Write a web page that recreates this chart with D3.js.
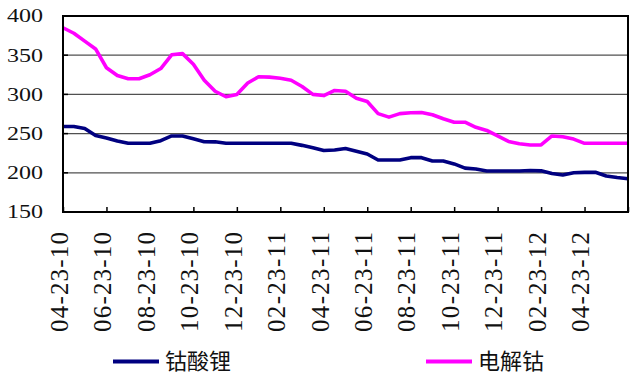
<!DOCTYPE html>
<html>
<head>
<meta charset="utf-8">
<script src="https://cdn.jsdelivr.net/npm/d3@7"></script>
<style>
  body { margin: 0; background: #fff; }
  svg { display: block; }
</style>
</head>
<body>
<svg id="chart" width="635" height="384"></svg>
<script>
// half-monthly price readings, categories as on the sheet
const categories = [
  "04-23-10","05-08-10","05-23-10","06-08-10","06-23-10","07-08-10","07-23-10","08-08-10",
  "08-23-10","09-08-10","09-23-10","10-08-10","10-23-10","11-08-10","11-23-10","12-08-10",
  "12-23-10","01-08-11","01-23-11","02-08-11","02-23-11","03-08-11","03-23-11","04-08-11",
  "04-23-11","05-08-11","05-23-11","06-08-11","06-23-11","07-08-11","07-23-11","08-08-11",
  "08-23-11","09-08-11","09-23-11","10-08-11","10-23-11","11-08-11","11-23-11","12-08-11",
  "12-23-11","01-08-12","01-23-12","02-08-12","02-23-12","03-08-12","03-23-12","04-08-12",
  "04-23-12","05-08-12","05-23-12","06-08-12","06-23-12"
];

// 钴酸锂
const licoo2 = [
  259, 259, 256.5, 247.5, 244.5, 240.5, 237.6, 237.6,
  237.6, 241, 247, 247, 243.5, 239.7, 239.5, 237.6,
  237.6, 237.6, 237.6, 237.6, 237.6, 237.6, 235, 232,
  228.5, 229, 231, 227.5, 224, 216.3, 216.3, 216.3,
  219.3, 219.3, 215, 215, 211.3, 206, 204.8, 202.3,
  202.3, 202.3, 202.3, 203, 202.5, 199, 197.2, 200,
  200.6, 200.6, 196, 194, 192.5
];

// 电解钴
const cobalt = [
  385, 378, 368, 358, 334, 324, 320, 320,
  325, 333, 350.5, 352, 338.5, 318, 304, 297,
  300, 314.5, 322.5, 322, 320.5, 318, 310, 300,
  298.5, 305, 304, 295, 291, 275.5, 271, 275.5,
  276.5, 277, 274, 269, 264.5, 264.5, 258, 254,
  247, 240, 237, 235.5, 235.5, 247, 246, 243,
  237.6, 237.6, 237.6, 237.6, 237.6
];

const tickLabels = ["04-23-10","06-23-10","08-23-10","10-23-10","12-23-10","02-23-11",
  "04-23-11","06-23-11","08-23-11","10-23-11","12-23-11","02-23-12","04-23-12"];
const yTicks = [150, 200, 250, 300, 350, 400];

const seriesNames = ["钴酸锂", "电解钴"];
const seriesColors = ["#000080", "#ff00ff"];

const plotL = 63, plotR = 628, plotT = 16, plotB = 212;

const svg = d3.select("#chart");
svg.append("rect").attr("width", 635).attr("height", 384).attr("fill", "#fff");

const x = d3.scalePoint().domain(categories).range([plotL, plotR]);
const y = d3.scaleLinear().domain([150, 400]).range([plotB, plotT]);

// gridlines
svg.append("g")
  .selectAll("line")
  .data(yTicks.filter(d => d > 150 && d < 400))
  .join("line")
    .attr("x1", plotL).attr("x2", plotR)
    .attr("y1", d => y(d)).attr("y2", d => y(d))
    .attr("stroke", "#505050")
    .attr("stroke-width", 1.2);

// y labels (stretched serif like the original)
svg.append("g")
  .selectAll("text")
  .data(yTicks)
  .join("text")
    .attr("transform", d => `translate(43,${y(d)}) scale(1.3,1)`)
    .attr("dy", "0.35em")
    .attr("text-anchor", "end")
    .attr("font-family", "'Liberation Serif', 'DejaVu Serif', serif")
    .attr("font-size", 18.5)
    .attr("fill", "#111")
    .text(d => d);

// bottom axis ticks, pointing into the plot
const xAxis = d3.axisBottom(x)
  .tickValues(categories.filter((d, i) => i % 4 === 0))
  .tickSize(-5)
  .tickFormat("");
const gx = svg.append("g").attr("transform", `translate(0,${plotB})`).call(xAxis);
gx.select(".domain").remove();
gx.selectAll(".tick line").attr("stroke", "#000").attr("stroke-width", 1.5);

// left ticks
svg.append("g")
  .selectAll("line")
  .data(yTicks)
  .join("line")
    .attr("x1", plotL).attr("x2", plotL + 5)
    .attr("y1", d => y(d)).attr("y2", d => y(d))
    .attr("stroke", "#000").attr("stroke-width", 1.5);

// x labels, rotated
svg.append("g")
  .selectAll("text")
  .data(tickLabels)
  .join("text")
    .attr("transform", d => `translate(${x(d) - 4},232) rotate(-90)`)
    .attr("dy", "0.35em")
    .attr("text-anchor", "end")
    .attr("font-family", "'Liberation Serif', 'DejaVu Serif', serif")
    .attr("font-size", 25)
    .attr("textLength", 100)
    .attr("lengthAdjust", "spacing")
    .attr("fill", "#111")
    .text(d => d);

// series lines
const line = d3.line()
  .x((d, i) => x(categories[i]))
  .y(d => y(d));

[licoo2, cobalt].forEach((vals, k) => {
  svg.append("path")
    .datum(vals)
    .attr("d", line)
    .attr("fill", "none")
    .attr("stroke", seriesColors[k])
    .attr("stroke-width", 3.6)
    .attr("stroke-linejoin", "round");
});

// plot frame
svg.append("rect")
  .attr("x", plotL).attr("y", plotT)
  .attr("width", plotR - plotL).attr("height", plotB - plotT)
  .attr("fill", "none")
  .attr("stroke", "#000")
  .attr("stroke-width", 2);

// legend
const legendX = [113, 426];
const lg = svg.append("g")
  .selectAll("g")
  .data(seriesNames)
  .join("g")
    .attr("transform", (d, i) => `translate(${legendX[i]},361.5)`);
lg.append("line")
  .attr("x1", 0).attr("x2", 46)
  .attr("stroke", (d, i) => seriesColors[i])
  .attr("stroke-width", 4);
lg.append("text")
  .attr("x", 52)
  .attr("dy", "0.36em")
  .attr("font-family", "'Noto Sans CJK SC', sans-serif")
  .attr("font-size", 22)
  .attr("fill", "#111")
  .text(d => d);
</script>
</body>
</html>
